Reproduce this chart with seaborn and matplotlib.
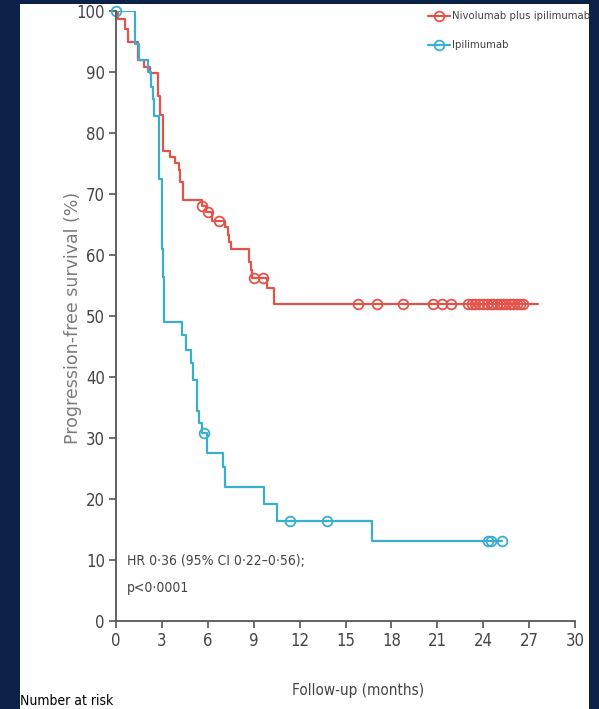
import numpy as np
import pandas as pd
import matplotlib
matplotlib.use("Agg")
import matplotlib.pyplot as plt
import seaborn as sns
from matplotlib.patches import Rectangle
from matplotlib.lines import Line2D

# step data (time in months, PFS in %)
nivo_t = [0, 0.1, 0.6, 0.8, 1.45, 1.8, 2.2, 2.75, 2.9, 3.1, 3.5, 3.85, 4.1, 4.2, 4.4,
          5.6, 5.9, 6.3, 7.1, 7.3, 7.4, 7.5, 8.7, 8.8, 8.9, 9.9, 10.3, 27.6]
nivo_s = [100, 98.7, 97, 95, 92, 90.8, 89.8, 86, 83, 77, 76, 75, 74, 72, 69,
          68, 67, 65.6, 64.6, 63.3, 62.2, 61, 58.9, 57.6, 56.3, 54.6, 52, 52]
nivo_cens_t = [5.65, 6.0, 6.7, 9.0, 9.6, 15.84, 17.08, 18.74, 20.74, 21.29, 21.9, 23.03,
               23.25, 23.46, 23.75, 24.0, 24.23, 24.49, 24.66, 24.88, 25.1, 25.3, 25.5,
               25.75, 25.97, 26.19, 26.41, 26.58]
nivo_cens_s = [68, 67, 65.6, 56.3, 56.3] + [52] * 23

ipi_t = [0, 1.25, 1.5, 2.1, 2.3, 2.4, 2.5, 2.8, 3.0, 3.05, 3.15, 4.3, 4.6, 4.9, 5.05,
         5.3, 5.45, 5.65, 5.95, 7.0, 7.1, 9.7, 10.5, 16.7, 25.2]
ipi_s = [100, 94.6, 92, 90, 87.5, 85.5, 82.8, 72.4, 61, 56.4, 49, 46.9, 44.4, 42.3, 39.5,
         34.5, 32.4, 30.8, 27.5, 25.2, 21.9, 19.1, 16.4, 13.1, 13.1]
ipi_cens_t = [0, 5.75, 11.4, 13.8, 24.3, 24.5, 25.2]
ipi_cens_s = [100, 30.8, 16.4, 16.4, 13.1, 13.1, 13.1]

x_ticks = list(range(0, 31, 3))
y_ticks = list(range(0, 101, 10))

red = "#e5524a"
blue = "#3aaecf"
navy = "#0b2148"
grey = "#555555"

sns.set_style("ticks")
narrow = dict(family="DejaVu Sans", fontstretch="condensed")

curves = pd.concat([
    pd.DataFrame({"t": nivo_t, "s": nivo_s, "arm": "Nivolumab plus ipilimumab"}),
    pd.DataFrame({"t": ipi_t, "s": ipi_s, "arm": "Ipilimumab"}),
])
cens = pd.concat([
    pd.DataFrame({"t": nivo_cens_t, "s": nivo_cens_s, "arm": "Nivolumab plus ipilimumab"}),
    pd.DataFrame({"t": ipi_cens_t, "s": ipi_cens_s, "arm": "Ipilimumab"}),
])
pal = {"Nivolumab plus ipilimumab": red, "Ipilimumab": blue}

fig = plt.figure(figsize=(5.99, 7.09), dpi=100, facecolor=navy)
fig.patches.append(Rectangle((20 / 599, 0), 569 / 599, 1 - 4 / 709,
                             transform=fig.transFigure, facecolor="white",
                             edgecolor="none", zorder=-5))
ax = fig.add_axes([116 / 599, 1 - 621 / 709, 459 / 599, 610 / 709])
ax.set_facecolor("none")

sns.lineplot(data=curves, x="t", y="s", hue="arm", palette=pal, drawstyle="steps-post",
             estimator=None, sort=False, linewidth=1.6, legend=False, ax=ax)
for arm, g in cens.groupby("arm"):
    ax.plot(g["t"], g["s"], linestyle="none", marker="o", markersize=7,
            markerfacecolor="none", markeredgecolor=pal[arm], markeredgewidth=1.3,
            clip_on=False)

ax.set_xlim(0, 30)
ax.set_ylim(0, 100)
ax.set_xticks(x_ticks)
ax.set_yticks(y_ticks)
ax.set_xticklabels([str(v) for v in x_ticks], fontsize=12, color="#444444", **narrow)
ax.set_yticklabels([str(v) for v in y_ticks], fontsize=12, color="#444444", **narrow)
ax.tick_params(length=5, width=1.2, color=grey, pad=3)
for side in ["top", "right"]:
    ax.spines[side].set_visible(False)
for side in ["left", "bottom"]:
    ax.spines[side].set_color(grey)
    ax.spines[side].set_linewidth(1.3)

ax.set_xlabel("")
ax.set_ylabel("")
fig.text(73 / 599, 1 - 318 / 709, "Progression-free survival (%)", rotation=90,
         ha="center", va="center", fontsize=12.5, color="#7a7a7a", family="DejaVu Sans")
fig.text(358 / 599, 1 - 690 / 709, "Follow-up (months)", ha="center", va="center",
         fontsize=11, color="#444444", **narrow)
fig.text(20 / 599, 4 / 709, "Number at risk", ha="left", va="baseline",
         fontsize=10, color="black", **narrow)

ax.text(0.72, 7.6, "HR 0·36 (95% CI 0·22–0·56);\np<0·0001", ha="left", va="center",
        fontsize=10, color="#444444", linespacing=2.2, **narrow)

# legend drawn by hand at the top right
for i, (label, col) in enumerate(pal.items()):
    yy = 1 - (16 + 29 * i) / 709
    fig.lines.append(Line2D([428 / 599, 450 / 599], [yy, yy], transform=fig.transFigure,
                            color=col, linewidth=1.6))
    fig.lines.append(Line2D([439 / 599], [yy], transform=fig.transFigure, color=col,
                            marker="o", markersize=7, markerfacecolor="none",
                            markeredgewidth=1.3, linestyle="none"))
    fig.text(452 / 599, yy, label, ha="left", va="center", fontsize=8.1,
             color="#444444", **narrow)

fig.savefig("out.png", dpi=100, facecolor=navy)
